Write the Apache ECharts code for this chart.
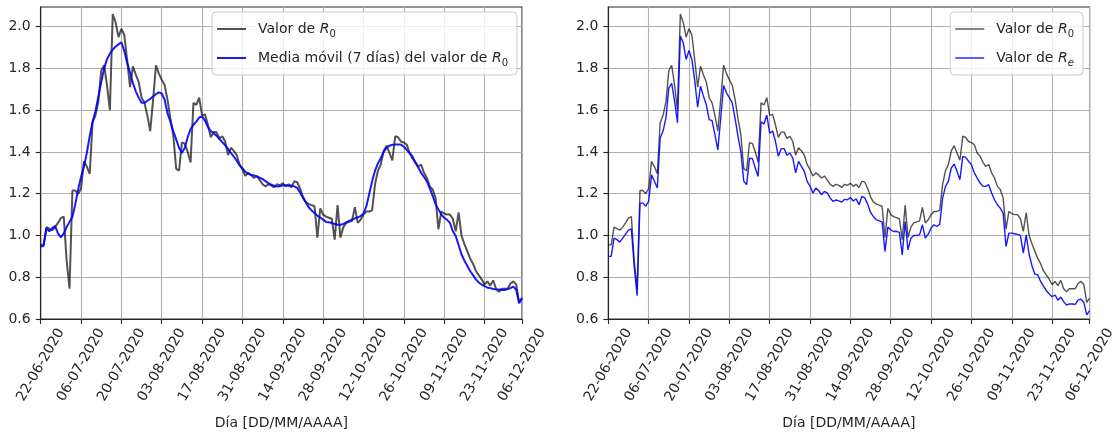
<!DOCTYPE html>
<html>
<head>
<meta charset="utf-8">
<script src="https://cdn.jsdelivr.net/npm/echarts@6/dist/echarts.min.js"></script>
<style>
  html, body { margin: 0; padding: 0; background: #fff; }
  #chart { width: 1114px; height: 434px; }
</style>
</head>
<body>
<div id="chart"></div>
<script>
// Daily series starting on 22-06-2020 (day index 0) and ending on 06-12-2020 (day 167)
const startDay = Date.UTC(2020, 5, 22);

// Tick positions (day index) and tick values on the y axis
const dayTicks = [0, 14, 28, 42, 56, 70, 84, 98, 112, 126, 140, 154, 167];
const yTicks = [0.6, 0.8, 1.0, 1.2, 1.4, 1.6, 1.8, 2.0];

// Basic reproduction number R0, one value per day
const r0 = [
  0.955, 0.955, 1.04, 1.033, 1.025, 1.04, 1.06, 1.083, 1.09, 0.88,
  0.745, 1.215, 1.215, 1.20, 1.225, 1.355, 1.33, 1.295, 1.54, 1.575,
  1.64, 1.79, 1.815, 1.72, 1.60, 2.06, 2.02, 1.95, 1.99, 1.96,
  1.84, 1.71, 1.81, 1.77, 1.735, 1.66, 1.635, 1.575, 1.50, 1.65,
  1.815, 1.775, 1.745, 1.72, 1.65, 1.56, 1.48, 1.32, 1.31, 1.445,
  1.44, 1.40, 1.35, 1.635, 1.625, 1.66, 1.575, 1.58, 1.53, 1.47,
  1.495, 1.495, 1.465, 1.475, 1.45, 1.385, 1.42, 1.405, 1.385, 1.34,
  1.315, 1.285, 1.30, 1.29, 1.275, 1.285, 1.265, 1.245, 1.235, 1.245,
  1.24, 1.23, 1.245, 1.24, 1.25, 1.235, 1.245, 1.23, 1.26, 1.255,
  1.225, 1.185, 1.16, 1.15, 1.145, 1.14, 0.99, 1.13, 1.10, 1.09,
  1.085, 1.08, 0.98, 1.145, 0.99, 1.04, 1.06, 1.065, 1.07, 1.135,
  1.06, 1.075, 1.10, 1.115, 1.115, 1.12, 1.245, 1.31, 1.34, 1.405,
  1.43, 1.395, 1.36, 1.475, 1.47, 1.45, 1.445, 1.435, 1.395, 1.38,
  1.35, 1.33, 1.34, 1.30, 1.275, 1.235, 1.22, 1.18, 1.03, 1.115,
  1.105, 1.10, 1.10, 1.08, 1.02, 1.11, 1.0, 0.96, 0.925, 0.89,
  0.865, 0.83, 0.81, 0.79, 0.765, 0.78, 0.76, 0.785, 0.745, 0.73,
  0.745, 0.745, 0.745, 0.77, 0.78, 0.765, 0.68, 0.70
];

// 7-day moving average of R0
const r0MovingAvg = [
  0.947, 0.95, 1.035, 1.02, 1.035, 1.045, 1.01, 0.99, 1.01, 1.04,
  1.065, 1.09, 1.15, 1.22, 1.28, 1.33, 1.395, 1.475, 1.545, 1.595,
  1.665, 1.735, 1.80, 1.843, 1.87, 1.89, 1.905, 1.915, 1.925, 1.883,
  1.827, 1.78, 1.73, 1.69, 1.66, 1.635, 1.635, 1.645, 1.654, 1.665,
  1.677, 1.685, 1.68, 1.65, 1.585, 1.545, 1.50, 1.46, 1.42, 1.395,
  1.42, 1.47, 1.51, 1.53, 1.545, 1.565, 1.57, 1.55, 1.52, 1.50,
  1.49, 1.478, 1.462, 1.447, 1.432, 1.415, 1.395, 1.378, 1.358, 1.336,
  1.322, 1.305, 1.295, 1.29, 1.287, 1.283, 1.277, 1.27, 1.26, 1.25,
  1.243, 1.238, 1.235, 1.236, 1.24, 1.24, 1.238, 1.239, 1.235, 1.228,
  1.206, 1.18, 1.158, 1.135, 1.12, 1.108, 1.095, 1.086, 1.076, 1.065,
  1.063, 1.06, 1.055, 1.051, 1.051, 1.055, 1.063, 1.07, 1.075, 1.082,
  1.087, 1.093, 1.105, 1.14, 1.20, 1.26, 1.31, 1.345, 1.37, 1.40,
  1.42, 1.43, 1.434, 1.435, 1.435, 1.435, 1.425, 1.41, 1.395, 1.37,
  1.35, 1.325, 1.30, 1.28, 1.259, 1.225, 1.19, 1.15, 1.125, 1.10,
  1.085, 1.075, 1.06, 1.02, 0.998, 0.954, 0.91, 0.88, 0.855, 0.83,
  0.81, 0.79, 0.775, 0.765, 0.758, 0.75, 0.748, 0.744, 0.742, 0.741,
  0.739, 0.739, 0.743, 0.748, 0.755, 0.74, 0.675, 0.70
];

// Effective reproduction number Re
const re = [
  0.90, 0.90, 0.987, 0.98, 0.968, 0.987, 1.006, 1.026, 1.032, 0.85,
  0.712, 1.155, 1.155, 1.14, 1.163, 1.29, 1.26, 1.227, 1.467, 1.50,
  1.563, 1.707, 1.728, 1.643, 1.54, 1.955, 1.923, 1.843, 1.886, 1.843,
  1.74, 1.614, 1.715, 1.667, 1.627, 1.555, 1.55, 1.483, 1.41, 1.56,
  1.718, 1.683, 1.66, 1.635, 1.56, 1.475, 1.40, 1.26, 1.243, 1.37,
  1.368, 1.323, 1.283, 1.544, 1.534, 1.576, 1.49, 1.50, 1.451, 1.379,
  1.416, 1.416, 1.384, 1.395, 1.371, 1.30, 1.355, 1.331, 1.307, 1.259,
  1.235, 1.203, 1.227, 1.214, 1.195, 1.211, 1.203, 1.179, 1.163, 1.17,
  1.166, 1.16, 1.173, 1.171, 1.182, 1.165, 1.175, 1.147, 1.187, 1.18,
  1.15, 1.11, 1.09, 1.075, 1.07, 1.065, 0.923, 1.04, 1.027, 1.019,
  1.02, 1.015, 0.907, 1.067, 0.931, 0.987, 1.0, 1.0, 1.003, 1.051,
  0.987, 1.006, 1.035, 1.051, 1.043, 1.054, 1.179, 1.235, 1.259, 1.323,
  1.342, 1.307, 1.267, 1.379, 1.374, 1.355, 1.339, 1.30, 1.275, 1.251,
  1.235, 1.235, 1.243, 1.203, 1.171, 1.147, 1.131, 1.107, 0.947, 1.011,
  1.011, 1.008, 1.005, 1.0, 0.915, 1.003, 0.91, 0.855, 0.815, 0.812,
  0.78, 0.757, 0.735, 0.72, 0.707, 0.715, 0.69, 0.705, 0.683, 0.667,
  0.672, 0.672, 0.67, 0.69, 0.695, 0.68, 0.62, 0.64
];

const FONT = 'DejaVu Sans';
const INK = '#262626';
const GREY_LINE = 'rgba(0,0,0,0.68)';
const BLUE_LINE = 'rgba(0,0,255,0.9)';

function pad2(n) { return (n < 10 ? '0' : '') + n; }
function dayLabel(d) {
  const t = new Date(startDay + Math.round(d) * 86400000);
  return pad2(t.getUTCDate()) + '-' + pad2(t.getUTCMonth() + 1) + '-' + t.getUTCFullYear();
}
function toPairs(arr) { return arr.map((v, i) => [i, v]); }

const legendNames = {
  r0Left: '{g|}Valor de {i|R}{s|0}',
  maLeft: '{g|}Media móvil (7 días) del valor de {i|R}{s|0}',
  r0Right: '{g|}Valor de {i|R}{s|0}',
  reRight: '{g|}Valor de {i|R}{si|e}'
};

const richText = {
  g: { width: 7 },
  i: { fontStyle: 'italic', fontSize: 14, fontFamily: FONT, color: INK },
  s: { fontSize: 10, fontFamily: FONT, color: INK, verticalAlign: 'bottom', lineHeight: 12 },
  si: { fontSize: 10, fontStyle: 'italic', fontFamily: FONT, color: INK, verticalAlign: 'bottom', lineHeight: 12 }
};

function gridBox(left) {
  return {
    left: left, top: 7, width: 481.3, height: 312,
    show: true, borderColor: INK, borderWidth: 1.1,
    backgroundColor: 'transparent', containLabel: false, outerBoundsMode: 'none'
  };
}

function xAxisFor(g) {
  return {
    type: 'value', gridIndex: g, min: 0, max: 167,
    axisLine: { show: true, onZero: false, lineStyle: { color: INK, width: 1.1 } },
    axisTick: { show: true, length: 5, customValues: dayTicks, lineStyle: { color: INK, width: 1.1 } },
    axisLabel: {
      customValues: dayTicks, formatter: dayLabel, rotate: 60,
      align: 'center', verticalAlign: 'middle', margin: 46,
      fontSize: 14, fontFamily: FONT, color: INK
    },
    splitLine: { show: true, lineStyle: { color: '#b0b0b0', width: 1.1 } },
    name: 'Día [DD/MM/AAAA]', nameLocation: 'middle', nameGap: 97,
    nameTextStyle: { fontSize: 14, fontFamily: FONT, color: INK, verticalAlign: 'top' }
  };
}

function yAxisFor(g) {
  return {
    type: 'value', gridIndex: g, min: 0.6, max: 2.094,
    axisLine: { show: true, onZero: false, lineStyle: { color: INK, width: 1.1 } },
    axisTick: { show: true, length: 5, customValues: yTicks, lineStyle: { color: INK, width: 1.1 } },
    axisLabel: {
      customValues: yTicks, formatter: v => v.toFixed(1), margin: 10,
      fontSize: 14, fontFamily: FONT, color: INK
    },
    splitLine: { show: true, lineStyle: { color: '#b0b0b0', width: 1.1 } }
  };
}

function lineSeries(name, g, values, color, width, z) {
  return {
    type: 'line', name: name, xAxisIndex: g, yAxisIndex: g,
    data: toPairs(values), symbol: 'none', z: z,
    lineStyle: { color: color, width: width },
    itemStyle: { color: color },
    emphasis: { disabled: true }
  };
}

function legendFor(names, right, iconH) {
  return {
    orient: 'vertical', right: right, top: 12,
    data: names, icon: 'rect', itemWidth: 29, itemHeight: iconH, itemGap: 9,
    padding: [7, 9, 7, 5],
    backgroundColor: 'rgba(255,255,255,0.8)', borderColor: '#cccccc', borderWidth: 1, borderRadius: 4,
    selectedMode: false,
    formatter: n => legendNames[n],
    textStyle: { fontSize: 14, fontFamily: FONT, color: INK, lineHeight: 20, rich: richText }
  };
}

const chart = echarts.init(document.getElementById('chart'), null, { renderer: 'canvas' });
chart.setOption({
  animation: false,
  backgroundColor: '#ffffff',
  textStyle: { fontFamily: FONT },
  grid: [gridBox(40.7), gridBox(608.3)],
  xAxis: [xAxisFor(0), xAxisFor(1)],
  yAxis: [yAxisFor(0), yAxisFor(1)],
  legend: [
    legendFor(['r0Left', 'maLeft'], 1114 - 517, 2),
    legendFor(['r0Right', 'reRight'], 1114 - 1083, 1.4)
  ],
  series: [
    lineSeries('r0Left', 0, r0, GREY_LINE, 2, 2),
    lineSeries('maLeft', 0, r0MovingAvg, BLUE_LINE, 2, 3),
    lineSeries('r0Right', 1, r0, GREY_LINE, 1.4, 2),
    lineSeries('reRight', 1, re, BLUE_LINE, 1.4, 3)
  ]
});
</script>
</body>
</html>
